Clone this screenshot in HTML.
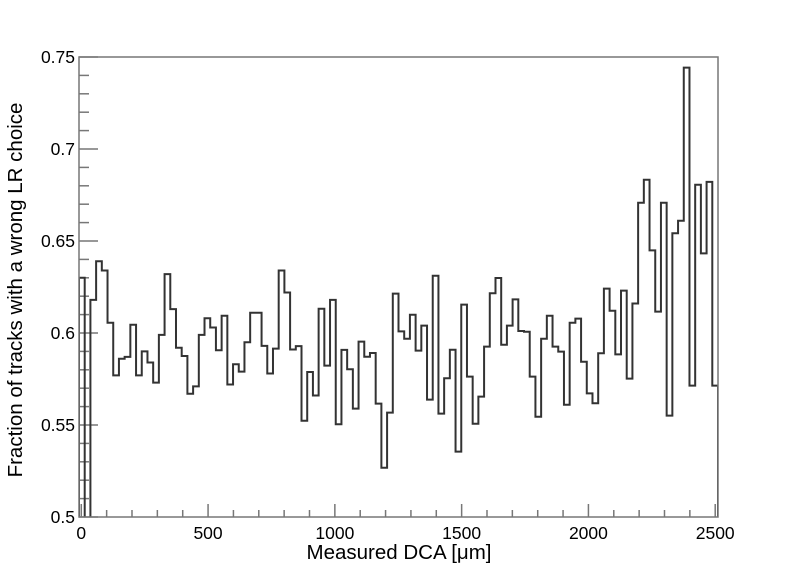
<!DOCTYPE html>
<html><head><meta charset="utf-8"><style>
html,body{margin:0;padding:0;background:#fff;}
svg{display:block;font-family:"Liberation Sans",Arial,sans-serif;}
</style></head><body>
<svg id="chart" width="798" height="575" viewBox="0 0 798 575" xmlns="http://www.w3.org/2000/svg">
<rect x="0" y="0" width="798" height="575" fill="#fff"/>
<g id="ticks"></g>
<g id="labels"></g>
<defs><clipPath id="plotclip"><rect x="79" y="57" width="639" height="460"/></clipPath></defs>
<path id="hist" fill="none" stroke="#333" stroke-width="2" clip-path="url(#plotclip)"/>
<rect x="79" y="57" width="639" height="460" fill="none" stroke="#777" stroke-width="1.5"/>
<text x="399" y="559" text-anchor="middle" font-size="20.5" fill="#000">Measured DCA [μm]</text>
<text x="0" y="0" transform="translate(22,290) rotate(-90)" text-anchor="middle" font-size="20.5" fill="#000">Fraction of tracks with a wrong LR choice</text>
</svg>
<script>
const binStart = -9;
const binWidth = 22.5;
const values = [0.630,0.0,0.618,0.639,0.634,0.6056,0.577,0.586,0.587,0.6045,
0.577,0.590,0.584,0.573,0.599,0.632,0.613,0.592,0.5875,0.567,
0.571,0.599,0.608,0.603,0.5906,0.6094,0.572,0.583,0.579,0.595,
0.611,0.611,0.593,0.578,0.5915,0.634,0.622,0.591,0.5929,0.5523,
0.5788,0.566,0.6132,0.5823,0.618,0.5504,0.5908,0.5803,0.5589,0.5953,
0.5871,0.5891,0.5616,0.5268,0.5567,0.6214,0.6009,0.5969,0.6099,0.5904,
0.604,0.5638,0.6311,0.5562,0.5754,0.5909,0.5355,0.6154,0.5763,0.5507,
0.5654,0.5926,0.6216,0.6299,0.5936,0.604,0.6183,0.6011,0.6007,0.5763,
0.5545,0.5969,0.6094,0.5926,0.5899,0.561,0.6056,0.6078,0.5844,0.5672,
0.5618,0.589,0.6241,0.6121,0.5884,0.623,0.5752,0.616,0.6708,0.6833,
0.6449,0.6116,0.6708,0.5551,0.6542,0.661,0.7442,0.5714,0.6806,0.6433,
0.6821,0.5714];
const xTickLabels = [0,500,1000,1500,2000,2500];
const yTickLabels = ["0.5","0.55","0.6","0.65","0.7","0.75"];
const yTickValues = [0.5,0.55,0.6,0.65,0.7,0.75];

const X0=79,X1=718,Y0=517,Y1=57;
const xmin=-9, xmax=2511, ymin=0.5, ymax=0.75;
function sx(v){return X0+(v-xmin)/(xmax-xmin)*(X1-X0);}
function sy(v){return Y0-(v-ymin)/(ymax-ymin)*(Y0-Y1);}
const NS="http://www.w3.org/2000/svg";
let d="M"+sx(binStart)+","+(Y0+5);
values.forEach((v,i)=>{
  const x0=sx(binStart+i*binWidth), x1=sx(binStart+(i+1)*binWidth);
  const y=Math.max(Math.min(sy(v),Y0+5),Y1-5);
  d+=" L"+x0+","+y+" L"+x1+","+y;
});
d+=" L"+sx(binStart+values.length*binWidth)+","+(Y0+5);
document.getElementById('hist').setAttribute('d',d);
const tg=document.getElementById('ticks'), lg=document.getElementById('labels');
function line(x1,y1,x2,y2,name){
  const l=document.createElementNS(NS,'line');
  l.setAttribute('x1',x1);l.setAttribute('y1',y1);l.setAttribute('x2',x2);l.setAttribute('y2',y2);
  l.setAttribute('stroke','#777');l.setAttribute('stroke-width','1.5');
  
  
  tg.appendChild(l);
}
for(let v=0; v<=2500; v+=100){
  const major=(v%500===0);
  line(sx(v),Y0,sx(v),Y0-(major?13:7),'x-tick');
}
for(let k=0;k<=25;k++){
  const v=0.5+k*0.01;
  const major=(k%5===0);
  line(X0,sy(v),X0+(major?19:10),sy(v),'y-tick');
}
xTickLabels.forEach(v=>{
  const t=document.createElementNS(NS,'text');
  t.setAttribute('x',sx(v));t.setAttribute('y',Y0+22);
  t.setAttribute('text-anchor','middle');t.setAttribute('font-size','17.5');
  t.textContent=v;
  
  
  lg.appendChild(t);
});
yTickLabels.forEach((s,i)=>{
  const t=document.createElementNS(NS,'text');
  t.setAttribute('x',X0-4);t.setAttribute('y',sy(yTickValues[i])+6);
  t.setAttribute('text-anchor','end');t.setAttribute('font-size','17.5');
  t.textContent=s;
  
  
  lg.appendChild(t);
});
</script>
</body></html>
